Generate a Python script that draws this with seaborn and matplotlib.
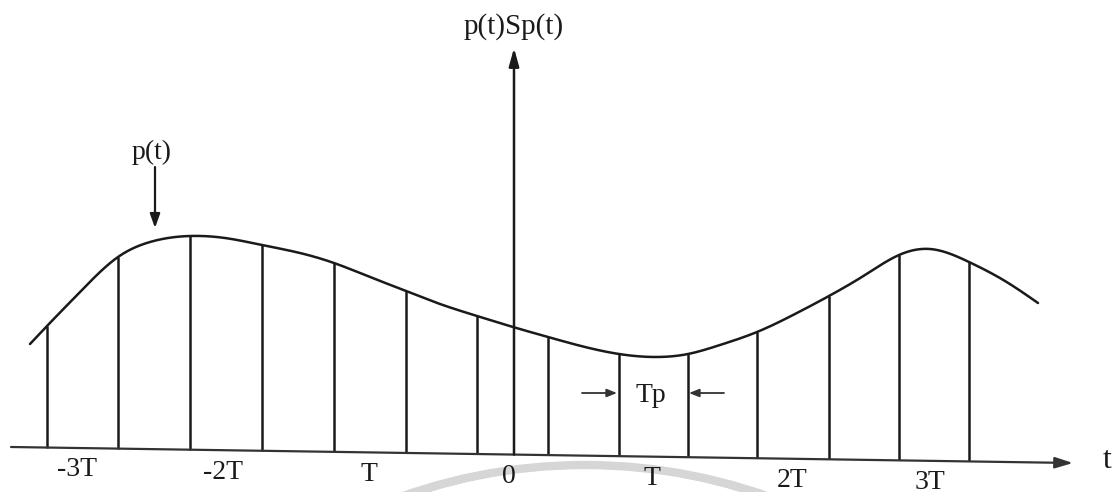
import numpy as np
import pandas as pd
import matplotlib
matplotlib.use("Agg")
import matplotlib.pyplot as plt
import seaborn as sns
from matplotlib.patches import Arc

# Drawing space: horizontal position and height in the figure's own units
# (y grows downward, as on paper).
curve_x = [30, 47, 80, 118, 150, 190, 225, 262, 300, 334, 370, 406, 440, 477,
           513, 548, 585, 619, 655, 688, 720, 757, 795, 829, 865, 899, 930,
           969, 1005, 1038]
curve_y = [344, 326, 292, 257, 242, 236, 238, 245, 253, 263, 277, 291, 304, 316,
           327, 337, 347, 354, 357, 354, 345, 332, 314, 296, 275, 255, 249,
           262, 281, 303]

# Sampling instants and the signal value reached by each sampling pulse
sample_x = [47, 118, 190, 262, 334, 406, 477, 548, 619, 688, 757, 829, 899, 969]
sample_top = [326, 257, 236, 245, 263, 291, 316, 337, 354, 354, 332, 296, 255, 262]

# Time axis (slightly sloping baseline) and vertical axis
t_axis_x = [11, 1073]
t_axis_y = [447, 463]
v_axis_x = 514
v_axis_top = 48

tick_labels = ["-3T", "-2T", "T", "0", "T", "2T", "3T"]
tick_x = [77, 223, 369, 509, 652, 792, 930]


def baseline(x):
    x = np.asarray(x, dtype=float)
    return t_axis_y[0] + (x - t_axis_x[0]) * (t_axis_y[1] - t_axis_y[0]) / (t_axis_x[1] - t_axis_x[0])


def natural_spline(xs, ys, n=1200):
    """Smooth natural cubic spline through the given points."""
    x = np.asarray(xs, float)
    y = np.asarray(ys, float)
    h = np.diff(x)
    m = len(x)
    A = np.zeros((m, m))
    b = np.zeros(m)
    A[0, 0] = A[-1, -1] = 1.0
    for i in range(1, m - 1):
        A[i, i - 1] = h[i - 1]
        A[i, i] = 2 * (h[i - 1] + h[i])
        A[i, i + 1] = h[i]
        b[i] = 6 * ((y[i + 1] - y[i]) / h[i] - (y[i] - y[i - 1]) / h[i - 1])
    M = np.linalg.solve(A, b)
    xx = np.linspace(x[0], x[-1], n)
    k = np.clip(np.searchsorted(x, xx) - 1, 0, m - 2)
    t1 = x[k + 1] - xx
    t0 = xx - x[k]
    hk = h[k]
    yy = (M[k] * t1 ** 3 / (6 * hk) + M[k + 1] * t0 ** 3 / (6 * hk)
          + (y[k] / hk - M[k] * hk / 6) * t1 + (y[k + 1] / hk - M[k + 1] * hk / 6) * t0)
    return xx, yy


sns.set_theme(style="white")
plt.rcParams["font.family"] = ["Liberation Serif", "DejaVu Serif"]

fig = plt.figure(figsize=(11.16, 4.92), dpi=100)
ax = fig.add_axes([0, 0, 1, 1])
ax.set_xlim(0, 1116)
ax.set_ylim(492, 0)
ax.axis("off")

ink = "#1a1a1a"

# Faint circular emblem behind the lower axis labels
for r, lw in [(550, 6), (528, 5)]:
    ax.add_patch(Arc((585, 465 + r), 2 * r, 2 * r, theta1=0, theta2=360,
                     color="#d6d6d6", lw=lw, zorder=0))

# Continuous signal p(t)
sx, sy = natural_spline(curve_x, curve_y)
df = pd.DataFrame({"x": sx, "y": sy})
sns.lineplot(data=df, x="x", y="y", sort=False, color=ink, lw=1.8, ax=ax,
             estimator=None)

# Sampling pulses
ax.vlines(sample_x, baseline(sample_x), sample_top, color=ink, lw=1.8)

# Time axis with arrow
ax.annotate("", xy=(t_axis_x[1], t_axis_y[1]), xytext=(t_axis_x[0], t_axis_y[0]),
            arrowprops=dict(arrowstyle="-|>,head_length=0.9,head_width=0.28",
                            color="#333333", lw=1.6, shrinkA=0, shrinkB=0))
ax.text(1107, 461, "t", fontsize=23, ha="center", va="center", color=ink)

# Vertical axis with arrow
ax.annotate("", xy=(v_axis_x, v_axis_top), xytext=(v_axis_x, float(baseline(v_axis_x))),
            arrowprops=dict(arrowstyle="-|>,head_length=0.9,head_width=0.25",
                            color=ink, lw=1.8, shrinkA=0, shrinkB=0))
ax.text(514, 27, "p(t)Sp(t)", fontsize=21, ha="center", va="center", color=ink)

# Pointer to the continuous signal
ax.annotate("", xy=(155, 228), xytext=(155, 167),
            arrowprops=dict(arrowstyle="-|>,head_length=0.7,head_width=0.25",
                            color=ink, lw=1.6, shrinkA=0, shrinkB=0))
ax.text(152, 152, "p(t)", fontsize=20, ha="center", va="center", color=ink)

# Pulse width marker
ax.annotate("", xy=(617, 393), xytext=(582, 393),
            arrowprops=dict(arrowstyle="-|>,head_length=0.5,head_width=0.2",
                            color="#333333", lw=1.3, shrinkA=0, shrinkB=0))
ax.annotate("", xy=(689, 393), xytext=(724, 393),
            arrowprops=dict(arrowstyle="-|>,head_length=0.5,head_width=0.2",
                            color="#333333", lw=1.3, shrinkA=0, shrinkB=0))
ax.text(651, 395, "Tp", fontsize=20, ha="center", va="center", color=ink)

# Time labels
for lbl, x in zip(tick_labels, tick_x):
    ax.text(x, float(baseline(x)) + 22, lbl, fontsize=20, ha="center",
            va="center", color=ink)

fig.savefig("out.png", dpi=100, facecolor="white")
